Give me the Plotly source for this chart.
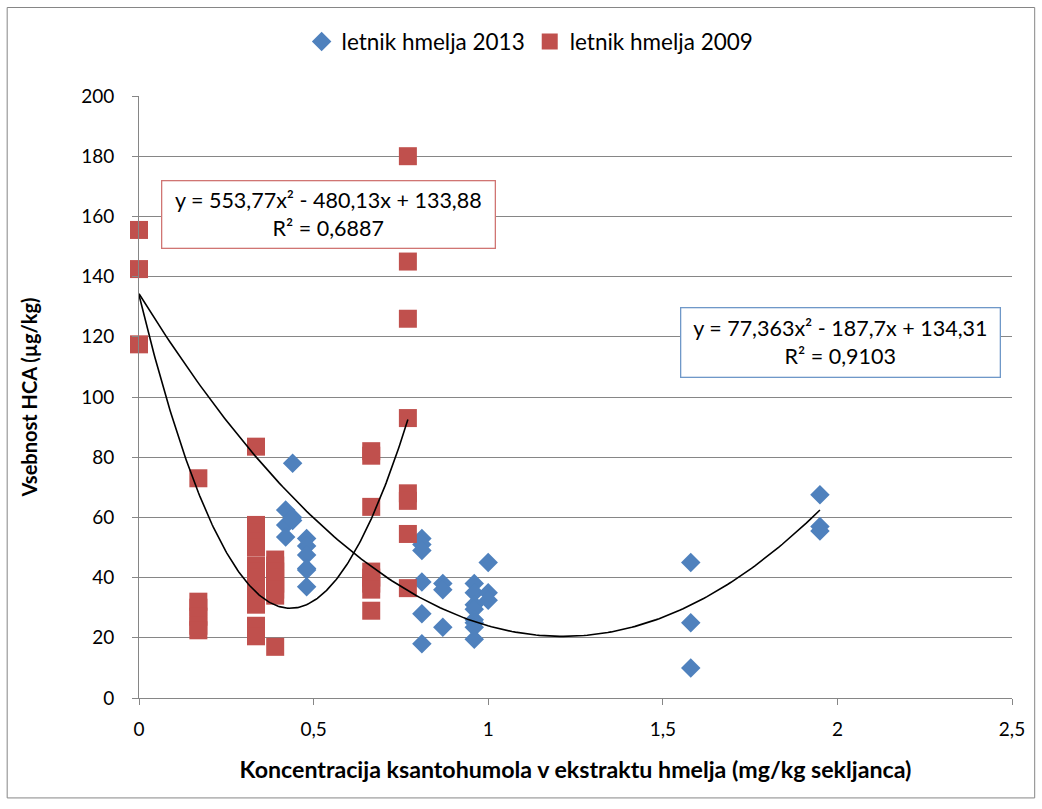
import numpy as np
import plotly.graph_objects as go

# ---- data ----
x_2013 = [0.42, 0.42, 0.42,
          0.44, 0.44, 0.44,
          0.48, 0.48, 0.48, 0.48, 0.48, 0.48,
          0.81, 0.81, 0.81, 0.81, 0.81, 0.81,
          0.87, 0.87, 0.87,
          0.96, 0.96, 0.96, 0.96, 0.96, 0.96, 0.96, 0.96,
          1.00, 1.00, 1.00,
          1.58, 1.58, 1.58,
          1.95, 1.95, 1.95]
y_2013 = [62.5, 57.5, 53.5,
          78, 60, 59,
          53, 50.5, 47.5, 43, 42.5, 37,
          53, 51, 49, 38.5, 28, 18,
          38, 36, 23.5,
          38, 35, 31, 29.5, 26, 25, 23.5, 19.5,
          45, 35, 32.5,
          45, 25, 10,
          67.5, 57, 55.5]

x_2009 = [0, 0, 0,
          0.17, 0.17, 0.17, 0.17, 0.17, 0.17,
          0.335, 0.335, 0.335, 0.335, 0.335, 0.335, 0.335, 0.335, 0.335, 0.335, 0.335, 0.335, 0.335, 0.335,
          0.39, 0.39, 0.39, 0.39, 0.39, 0.39, 0.39, 0.39,
          0.665, 0.665, 0.665, 0.665, 0.665, 0.665, 0.665, 0.665,
          0.77, 0.77, 0.77, 0.77, 0.77, 0.77, 0.77, 0.77]
y_2009 = [155.5, 142.5, 117.5,
          73, 32, 30, 27, 24, 22.5,
          83.5, 57.5, 55, 52, 50, 44, 42, 40, 38, 36, 33, 31, 24, 20.5,
          46, 44, 42, 40, 38, 36, 34, 17,
          82, 80.5, 63.5, 42, 40, 38, 36, 29,
          180, 145, 126, 93, 68, 65.5, 54.5, 36.5]

# trendline coefficients (a, b, c) for y = a x^2 + b x + c, as printed
coef_2013 = [77.363, -187.7, 134.31]
coef_2009 = [553.77, -480.13, 133.88]
range_2013 = [0, 1.95]
range_2009 = [0, 0.77]

x_ticks = [0, 0.5, 1, 1.5, 2, 2.5]
y_ticks = [0, 20, 40, 60, 80, 100, 120, 140, 160, 180, 200]

BLUE = "#4F81BD"
RED = "#C0504D"
GRID = "#868686"
FONT = "Lato"

fig = go.Figure()

fig.add_trace(go.Scatter(
    x=x_2013, y=y_2013, mode="markers", name="letnik hmelja 2013", cliponaxis=False,
    marker=dict(symbol="diamond", size=15, color=BLUE)))
fig.add_trace(go.Scatter(
    x=x_2009, y=y_2009, mode="markers", name="letnik hmelja 2009", cliponaxis=False,
    marker=dict(symbol="square", size=18, color=RED)))

for coef, rng in [(coef_2013, range_2013), (coef_2009, range_2009)]:
    xs = np.linspace(rng[0], rng[1], 200)
    ys = np.polyval(coef, xs)
    fig.add_trace(go.Scatter(x=xs, y=ys, mode="lines", showlegend=False, cliponaxis=False,
                             line=dict(color="black", width=1.6), hoverinfo="skip"))

fig.add_annotation(x=0.542, y=160.6, xref="x", yref="y",
                   text="y = 553,77x² - 480,13x + 133,88<br>R² = 0,6887",
                   showarrow=False, font=dict(family=FONT, size=21.5, color="black"),
                   bordercolor="#D07573", borderwidth=1.3, borderpad=2,
                   bgcolor="white", width=328, height=62, align="center",
                   xanchor="center", yanchor="middle")
fig.add_annotation(x=2.01, y=118.1, xref="x", yref="y",
                   text="y = 77,363x² - 187,7x + 134,31<br>R² = 0,9103",
                   showarrow=False, font=dict(family=FONT, size=21.5, color="black"),
                   bordercolor="#6F98C8", borderwidth=1.3, borderpad=2,
                   bgcolor="white", width=314, height=64, align="center",
                   xanchor="center", yanchor="middle")

# outer chart border
fig.add_shape(type="rect", xref="paper", yref="paper",
              x0=-0.151, x1=1.026, y0=-0.166, y1=1.147,
              line=dict(color=GRID, width=1))

fig.update_layout(
    width=1042, height=809,
    margin=dict(l=139, r=30, t=96, b=111),
    paper_bgcolor="white", plot_bgcolor="white",
    separators=", ",
    font=dict(family=FONT, size=19, color="black"),
    legend=dict(orientation="h", x=0.448, y=1.09, xanchor="center", yanchor="middle",
                font=dict(family=FONT, size=22.5), itemwidth=30, tracegroupgap=0),
    xaxis=dict(range=[0, 2.5], tickvals=x_ticks, showgrid=False, zeroline=False,
               showline=True, linecolor=GRID, linewidth=1,
               ticks="outside", ticklen=6, tickcolor=GRID, ticklabelstandoff=8,
               tickfont=dict(family=FONT, size=19),
               title=dict(text="<b>Koncentracija ksantohumola v ekstraktu hmelja (mg/kg sekljanca)</b>",
                          font=dict(family=FONT, size=23.2), standoff=22)),
    yaxis=dict(range=[0, 200], tickvals=y_ticks, showgrid=True, gridcolor=GRID, gridwidth=1,
               zeroline=False, showline=True, linecolor=GRID, linewidth=1,
               ticks="outside", ticklen=6, tickcolor=GRID, ticklabelstandoff=14,
               tickfont=dict(family=FONT, size=19),
               title=dict(text="<b>Vsebnost HCA (µg/kg)</b>",
                          font=dict(family=FONT, size=20), standoff=38)),
)

fig.write_html("out.html")
